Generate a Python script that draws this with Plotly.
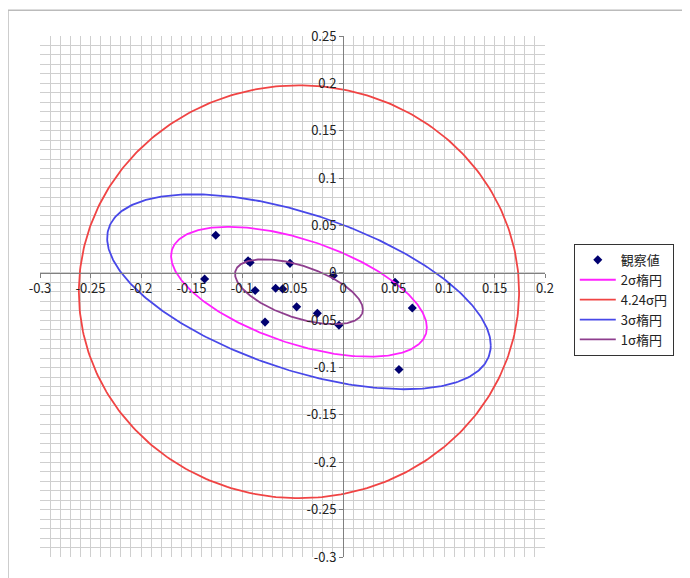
import numpy as np
import plotly.graph_objects as go

# Observed values (観察値)
obs_x = [-0.126, -0.094, -0.092, -0.0525, -0.0096, -0.137, -0.087, -0.0667,
         -0.0597, -0.0459, -0.0254, -0.004, -0.0772, 0.0515, 0.0686, 0.0554]
obs_y = [0.0397, 0.0128, 0.011, 0.010, -0.003, -0.0065, -0.0187, -0.0163,
         -0.017, -0.0359, -0.0428, -0.0554, -0.052, -0.010, -0.0372, -0.102]

# Ellipse parameters
center_x = -0.0436
center_y = -0.020
sigma_x = 0.0633
sigma_y = 0.0343
rho = -0.55
circle_k = 4.24
circle_sigma = 0.0514

series_names = ["2σ楕円", "4.24σ円", "3σ楕円", "1σ楕円"]
series_levels = [2, None, 3, 1]
series_colors = ["#FF22FF", "#F04444", "#4848E8", "#8E3E8E"]

x_ticks = [-0.3, -0.25, -0.2, -0.15, -0.1, -0.05, 0, 0.05, 0.1, 0.15, 0.2]
x_tick_labels = ["-0.3", "-0.25", "-0.2", "-0.15", "-0.1", "-0.05", "0", "0.05", "0.1", "0.15", "0.2"]
y_ticks = [-0.3, -0.25, -0.2, -0.15, -0.1, -0.05, 0, 0.05, 0.1, 0.15, 0.2, 0.25]
y_tick_labels = ["-0.3", "-0.25", "-0.2", "-0.15", "-0.1", "-0.05", "0", "0.05", "0.1", "0.15", "0.2", "0.25"]

x_range = [-0.3, 0.2]
y_range = [-0.3, 0.25]

FONT = "Noto Sans CJK JP, Noto Sans, sans-serif"

t = np.linspace(0, 2 * np.pi, 361)

fig = go.Figure()
fig.add_trace(go.Scatter(
    x=obs_x, y=obs_y, mode="markers", name="観察値",
    marker=dict(symbol="diamond", size=7, color="#000070"),
))
for name, lvl, col in zip(series_names, series_levels, series_colors):
    if lvl is None:
        r = circle_k * circle_sigma
        ex = center_x + r * np.cos(t)
        ey = center_y + r * np.sin(t)
    else:
        ex = center_x + lvl * sigma_x * np.cos(t)
        ey = center_y + lvl * sigma_y * (rho * np.cos(t) + np.sqrt(1 - rho ** 2) * np.sin(t))
    fig.add_trace(go.Scatter(x=ex, y=ey, mode="lines", name=name,
                             line=dict(color=col, width=1.8)))

grid_col = "#CFCFCF"
axis_col = "#808080"
tick_font = dict(family=FONT, size=13, color="#222")
fig.update_xaxes(
    range=x_range, domain=[0, 1], anchor="free",
    position=(0 - y_range[0]) / (y_range[1] - y_range[0]),
    tickmode="array", tickvals=x_ticks, ticktext=x_tick_labels,
    showgrid=True, gridcolor=grid_col, gridwidth=1,
    minor=dict(tick0=0, dtick=0.01, showgrid=True, gridcolor=grid_col, gridwidth=1),
    showline=True, linecolor=axis_col, linewidth=1,
    ticks="outside", ticklen=4, tickcolor=axis_col,
    zeroline=False, tickfont=tick_font,
)
fig.update_yaxes(
    range=y_range, domain=[0, 1], anchor="free",
    position=(0 - x_range[0]) / (x_range[1] - x_range[0]),
    tickmode="array", tickvals=y_ticks, ticktext=y_tick_labels,
    showgrid=True, gridcolor=grid_col, gridwidth=1,
    minor=dict(tick0=0, dtick=0.01, showgrid=True, gridcolor=grid_col, gridwidth=1),
    showline=True, linecolor=axis_col, linewidth=1,
    ticks="outside", ticklen=4, tickcolor=axis_col,
    zeroline=False, tickfont=tick_font,
)

fig.add_shape(type="rect", xref="paper", yref="paper",
              x0=-0.0634, y0=-0.1, x1=1.4, y1=1.0496,
              line=dict(color="#BBBBBB", width=1.5), layer="below")

fig.update_layout(
    width=682, height=570, autosize=False,
    margin=dict(l=32, r=145, t=28, b=18),
    paper_bgcolor="white", plot_bgcolor="white",
    font=dict(family=FONT, size=12, color="#222"),
    showlegend=True,
    legend=dict(x=1.057, y=0.601, xanchor="left", yanchor="top",
                bordercolor="#333", borderwidth=1, bgcolor="white",
                font=dict(family=FONT, size=13, color="#222"),
                itemwidth=36, tracegroupgap=0),
)

fig.write_html("out.html")
